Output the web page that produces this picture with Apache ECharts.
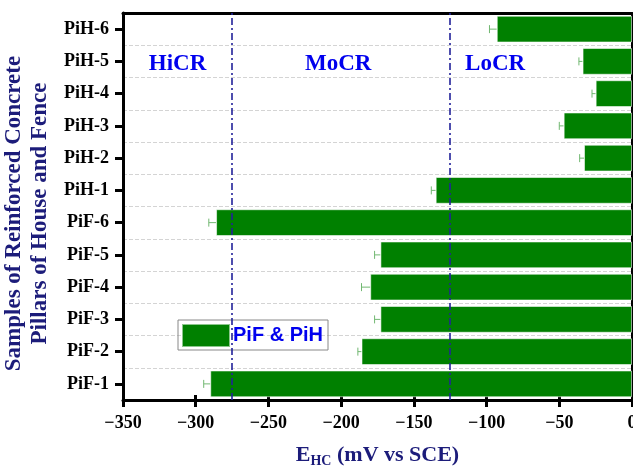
<!DOCTYPE html>
<html>
<head>
<meta charset="utf-8">
<script src="https://cdn.jsdelivr.net/npm/echarts@6/dist/echarts.min.js"></script>
<style>
html,body{margin:0;padding:0;background:#fff;}
#chart{width:633px;height:468px;}
</style>
</head>
<body>
<div id="chart"></div>
<script>
// samples, bottom to top
const samples = ['PiF-1','PiF-2','PiF-3','PiF-4','PiF-5','PiF-6','PiH-1','PiH-2','PiH-3','PiH-4','PiH-5','PiH-6'];
const ehc = [-290, -186, -173, -180, -173, -286, -135, -33, -47, -25, -34, -93];
const ehcErr = [4.5, 2.5, 4, 6, 4, 5, 3, 3, 3, 2.5, 2.5, 5];
const xTicks = [-350, -300, -250, -200, -150, -100, -50, 0];
const zoneEdges = [-275, -125];
const zones = [['HiCR', -350, -275], ['MoCR', -275, -125], ['LoCR', -125, 0]];

const serif = 'Liberation Serif';
const navy = '#1c1c7a';
const chart = echarts.init(document.getElementById('chart'));

const errData = ehc.map((v, i) => [v, i, ehcErr[i]]);

const option = {
  animation: false,
  grid: {left: 123, right: 1, top: 13, bottom: 68, outerBoundsMode: 'none', containLabel: false},
  legend: {
    data: [{name: 'PiF & PiH', icon: 'rect'}],
    left: 178, top: 320,
    itemWidth: 48, itemHeight: 23,
    padding: [3, 5, 2, 3],
    borderColor: '#888', borderWidth: 1,
    textStyle: {color: '#0000ee', fontWeight: 'bold', fontSize: 20, fontFamily: 'Liberation Sans', padding: [0, 0, 0, -2]}
  },
  xAxis: [{
    type: 'value', min: -350, max: 0, interval: 50,
    name: '{a|E}{s|HC}{a| (mV vs SCE)}',
    nameLocation: 'middle', nameGap: 42,
    nameTextStyle: {
      rich: {
        a: {fontFamily: serif, fontWeight: 'bold', fontSize: 22, color: navy},
        s: {fontFamily: serif, fontWeight: 'bold', fontSize: 14, color: navy, verticalAlign: 'bottom', padding: [12, 0, 0, 0]}
      }
    },
    axisLine: {show: true, onZero: false, lineStyle: {color: '#000', width: 3}},
    axisTick: {show: true, length: 7, lineStyle: {color: '#000', width: 3}},
    axisLabel: {
      margin: 14, color: '#000', fontFamily: serif, fontWeight: 'bold', fontSize: 18,
      formatter: v => (v < 0 ? '\u2212' + Math.abs(v) : String(v))
    },
    splitLine: {show: false}
  }, {
    type: 'value', min: -350, max: 0, interval: 50, position: 'bottom',
    axisLine: {show: false}, axisLabel: {show: false}, splitLine: {show: false},
    axisTick: {show: true, inside: true, length: 5, lineStyle: {color: '#000', width: 3}}
  }, {
    type: 'value', min: -350, max: 0, position: 'top',
    axisLine: {show: true, onZero: false, lineStyle: {color: '#000', width: 3}},
    axisTick: {show: false}, axisLabel: {show: false}, splitLine: {show: false}
  }],
  yAxis: [{
    type: 'category', data: samples,
    name: 'Samples of Reinforced Concrete\nPillars of House and Fence',
    nameLocation: 'middle', nameGap: 55, nameRotate: 90,
    nameTextStyle: {fontFamily: serif, fontWeight: 'bold', fontSize: 23, color: navy, lineHeight: 26, padding: [0, 14, 0, 0]},
    axisLine: {show: true, onZero: false, lineStyle: {color: '#000', width: 3}},
    axisTick: {show: true, alignWithLabel: true, length: 8, lineStyle: {color: '#000', width: 3}},
    axisLabel: {margin: 14, color: '#000', fontFamily: serif, fontWeight: 'bold', fontSize: 18},
    splitLine: {show: true, lineStyle: {color: '#d4d4d4', type: 'dashed', width: 1}}
  }, {
    type: 'category', data: samples, position: 'left',
    axisLine: {show: false}, axisLabel: {show: false}, splitLine: {show: false},
    axisTick: {show: true, inside: true, alignWithLabel: true, length: 8, lineStyle: {color: '#000', width: 3}}
  }, {
    type: 'category', data: samples, position: 'right',
    axisLine: {show: true, onZero: false, lineStyle: {color: '#000', width: 2}},
    axisTick: {show: false}, axisLabel: {show: false}, splitLine: {show: false}
  }],
  series: [{
    name: 'PiF & PiH',
    type: 'bar',
    data: ehc,
    barWidth: '83%',
    itemStyle: {color: '#008000', borderColor: 'rgba(255,255,255,0.55)', borderWidth: 1},
    z: 3,
    markLine: {
      silent: true, symbol: 'none',
      label: {show: false},
      lineStyle: {color: '#22229a', width: 1.6, type: [7, 3, 2, 3]},
      data: zoneEdges.map(v => ({xAxis: v}))
    },
    markArea: {
      silent: true,
      itemStyle: {color: 'rgba(0,0,0,0)'},
      label: {
        position: 'insideTop', distance: 23,
        color: '#0000ee', fontFamily: serif, fontWeight: 'bold', fontSize: 23
      },
      data: zones.map((z, i) => [{
        name: z[0], xAxis: z[1], yAxis: 'PiH-6',
        label: {offset: i === 2 ? [-46, 0] : (i === 1 ? [-3, 0] : [0, 0])}
      }, {xAxis: z[2], yAxis: 'PiH-6'}])
    }
  }, {
    type: 'custom',
    name: 'err',
    data: errData,
    encode: {x: 0, y: 1},
    z: 2,
    renderItem: function (params, api) {
      const v = api.value(0), c = api.value(1), e = api.value(2);
      const p1 = api.coord([v - e, c]);
      const p2 = api.coord([v, c]);
      const st = {stroke: '#72b872', lineWidth: 1};
      return {
        type: 'group',
        children: [
          {type: 'line', shape: {x1: p1[0], y1: p1[1], x2: p2[0], y2: p2[1]}, style: st},
          {type: 'line', shape: {x1: p1[0], y1: p1[1] - 4, x2: p1[0], y2: p1[1] + 4}, style: st}
        ]
      };
    }
  }]
};
chart.setOption(option);
</script>
</body>
</html>
